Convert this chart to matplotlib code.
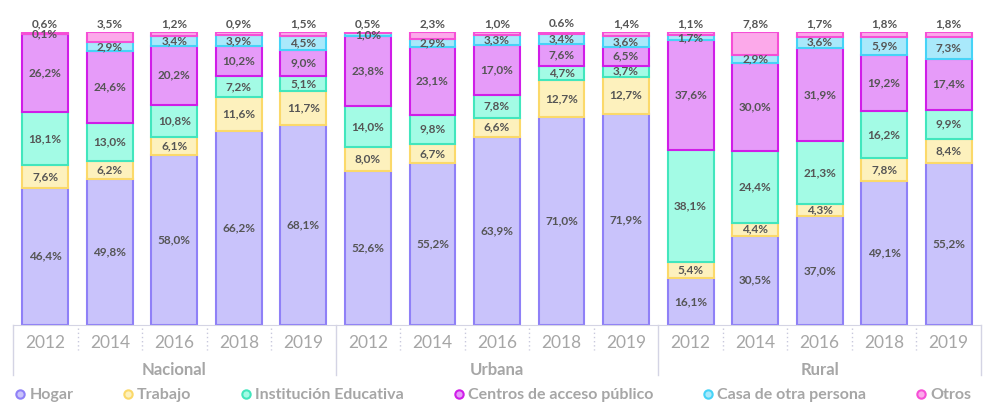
import numpy as np
import matplotlib.pyplot as plt
from matplotlib.lines import Line2D

plt.rcParams['font.family'] = ['Lato', 'DejaVu Sans']

groups = ['Nacional', 'Urbana', 'Rural']
years = ['2012', '2014', '2016', '2018', '2019']

series = ['Hogar', 'Trabajo', 'Institución Educativa', 'Centros de acceso público',
          'Casa de otra persona', 'Otros']

# values per bar: Nacional 2012..2019, Urbana 2012..2019, Rural 2012..2019
hogar = [46.4, 49.8, 58.0, 66.2, 68.1, 52.6, 55.2, 63.9, 71.0, 71.9, 16.1, 30.5, 37.0, 49.1, 55.2]
trabajo = [7.6, 6.2, 6.1, 11.6, 11.7, 8.0, 6.7, 6.6, 12.7, 12.7, 5.4, 4.4, 4.3, 7.8, 8.4]
institucion = [18.1, 13.0, 10.8, 7.2, 5.1, 14.0, 9.8, 7.8, 4.7, 3.7, 38.1, 24.4, 21.3, 16.2, 9.9]
centros = [26.2, 24.6, 20.2, 10.2, 9.0, 23.8, 23.1, 17.0, 7.6, 6.5, 37.6, 30.0, 31.9, 19.2, 17.4]
casa = [0.1, 2.9, 3.4, 3.9, 4.5, 1.0, 2.9, 3.3, 3.4, 3.6, 1.7, 2.9, 3.6, 5.9, 7.3]
otros = [0.6, 3.5, 1.2, 0.9, 1.5, 0.5, 2.3, 1.0, 0.6, 1.4, 1.1, 7.8, 1.7, 1.8, 1.8]
otros_labels = ['0,6%', '3,5%', '1,2%', '0,9%', '1,5%', '0,5%', '2,3%', '1,0%', '0.6%', '1,4%',
                '1,1%', '7,8%', '1,7%', '1,8%', '1,8%']

fills = ['#c9c3fb', '#fdf1bd', '#a3fbe5', '#e69bf9', '#a9e9fb', '#fca9ea']
edges = ['#8f80f7', '#fbd96a', '#42e6bd', '#d01de8', '#46d3f7', '#f64fd6']

data = np.array([hogar, trabajo, institucion, centros, casa, otros])
data = data / data.sum(axis=0) * 100  # 100% stacked

fig = plt.figure(figsize=(9.83, 4.04), dpi=100)
ax = fig.add_axes([13 / 983, 79 / 404, 968 / 983, 293 / 404])

x = np.arange(15)
bottom = np.zeros(15)
for i in range(6):
    ax.bar(x, data[i], 0.71, bottom=bottom, color=fills[i], edgecolor=edges[i], linewidth=1.5)
    if i < 5:
        vals = [hogar, trabajo, institucion, centros, casa][i]
        for j in range(15):
            ax.text(x[j], bottom[j] + data[i][j] / 2, f'{vals[j]:.1f}%'.replace('.', ','),
                    ha='center', va='center', fontsize=8.5, fontweight='bold', color='#555555')
    bottom += data[i]

for j in range(15):
    ax.annotate(otros_labels[j], (x[j], 100), xytext=(0, 2), textcoords='offset points',
                ha='center', va='bottom', fontsize=8.5, fontweight='bold', color='#555555')

ax.set_xlim(-0.5, 14.5)
ax.set_ylim(0, 100)
for s in ['top', 'right', 'left']:
    ax.spines[s].set_visible(False)
ax.spines['bottom'].set_color('#d4d4e4')
ax.set_yticks([])
ax.set_xticks(x)
ax.set_xticklabels(years * 3, fontsize=12.5, color='#a6a6a6')
ax.tick_params(axis='x', length=0, pad=7)

trans = ax.get_xaxis_transform()
# dotted separators between years
for k in range(15):
    if k % 5 != 0:
        ax.plot([k - 0.5, k - 0.5], [-0.01, -0.085], transform=trans, color='#c8c8dc',
                linestyle=(0, (1, 2)), linewidth=1, clip_on=False)
# solid separators between groups
for k in [0, 5, 10, 15]:
    ax.plot([k - 0.5, k - 0.5], [0, -0.17], transform=trans, color='#d4d4e4',
            linewidth=1, clip_on=False)
for g, name in enumerate(groups):
    ax.text(g * 5 + 2, -0.152, name, transform=trans, ha='center', va='center',
            fontsize=12, fontweight='bold', color='#a6a6a6')

handles = [Line2D([], [], marker='o', linestyle='none', markersize=6,
                  markerfacecolor=fills[i], markeredgecolor=edges[i], markeredgewidth=1.5)
           for i in range(6)]
leg = fig.legend(handles, series, loc='center', bbox_to_anchor=(0.5, 9 / 404), ncol=6,
                 frameon=False, handletextpad=0.1, columnspacing=2.9, handlelength=1,
                 prop={'size': 11.5, 'weight': 'bold'})
for t in leg.get_texts():
    t.set_color('#a6a6a6')

fig.savefig('out.png', dpi=100)
